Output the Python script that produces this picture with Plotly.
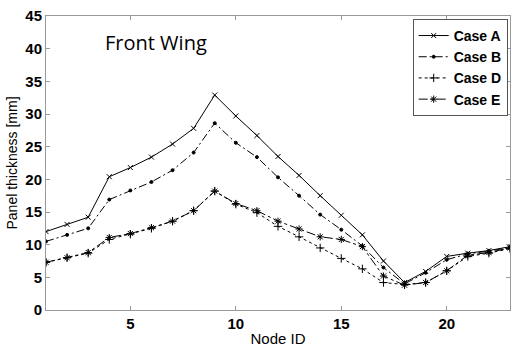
import plotly.graph_objects as go

node_id = list(range(1, 24))
case_a = [12.0, 13.1, 14.2, 20.4, 21.8, 23.4, 25.4, 27.8, 32.9, 29.7, 26.7, 23.5,
          20.6, 17.5, 14.5, 11.5, 7.5, 4.2, 5.9, 8.2, 8.7, 9.1, 9.7]
case_b = [10.5, 11.5, 12.5, 16.9, 18.3, 19.6, 21.4, 24.1, 28.6, 25.6, 23.4, 20.3,
          17.5, 14.6, 12.3, 9.8, 6.5, 4.0, 5.7, 7.7, 8.6, 9.0, 9.6]
case_d = [7.3, 8.0, 8.7, 10.8, 11.6, 12.5, 13.6, 15.2, 18.2, 16.2, 14.9, 12.8,
          11.2, 9.5, 7.9, 6.3, 4.2, 3.9, 4.2, 6.0, 8.2, 8.7, 9.4]
case_e = [7.3, 8.0, 8.8, 11.1, 11.7, 12.6, 13.6, 15.2, 18.2, 16.3, 15.2, 13.6,
          12.4, 11.2, 10.8, 9.7, 5.2, 3.8, 4.2, 6.0, 8.4, 8.8, 9.5]

series = [
    ("Case A", case_a, "solid", "x-thin-open", 5),
    ("Case B", case_b, "8px,3px,2px,3px", "circle", 3),
    ("Case D", case_d, "dot", "cross-thin-open", 6),
    ("Case E", case_e, "dashdot", "asterisk-open", 6),
]

fig = go.Figure()
for name, ys, dash, sym, size in series:
    fig.add_trace(go.Scatter(
        x=node_id, y=ys, name=name, mode="lines+markers",
        line=dict(color="black", width=1, dash=dash),
        marker=dict(symbol=sym, size=size, color="black",
                    line=dict(color="black", width=1)),
    ))

fig.add_annotation(x=3.7, y=40.9, xref="x", yref="y", text="Front Wing",
                   showarrow=False, xanchor="left", yanchor="middle",
                   font=dict(family="Open Sans", size=20, color="black"))

axis_common = dict(
    showline=True, linecolor="#999999", linewidth=1, mirror="ticks",
    ticks="inside", ticklen=4, tickcolor="#999999", showgrid=False, zeroline=False,
    tickfont=dict(family="Liberation Sans", size=15, color="black", weight="bold"),
)

fig.update_layout(
    width=518, height=352,
    margin=dict(l=46, r=7, t=14, b=35),
    paper_bgcolor="white", plot_bgcolor="white",
    showlegend=True,
    legend=dict(x=0.995, y=0.99, xanchor="right", yanchor="top",
                bordercolor="#555555", borderwidth=1, bgcolor="white",
                itemwidth=30, tracegroupgap=0,
                font=dict(family="Liberation Sans", size=14, color="black", weight="bold")),
    xaxis=dict(range=[1, 23], tickvals=[5, 10, 15, 20],
               title=dict(text="Node ID", standoff=2,
                          font=dict(family="Liberation Sans", size=15, color="black")),
               **axis_common),
    yaxis=dict(range=[0, 45], dtick=5,
               title=dict(text="Panel thickness [mm]", standoff=4,
                          font=dict(family="Liberation Sans", size=14, color="black")),
               **axis_common),
)

fig.write_html("out.html")
